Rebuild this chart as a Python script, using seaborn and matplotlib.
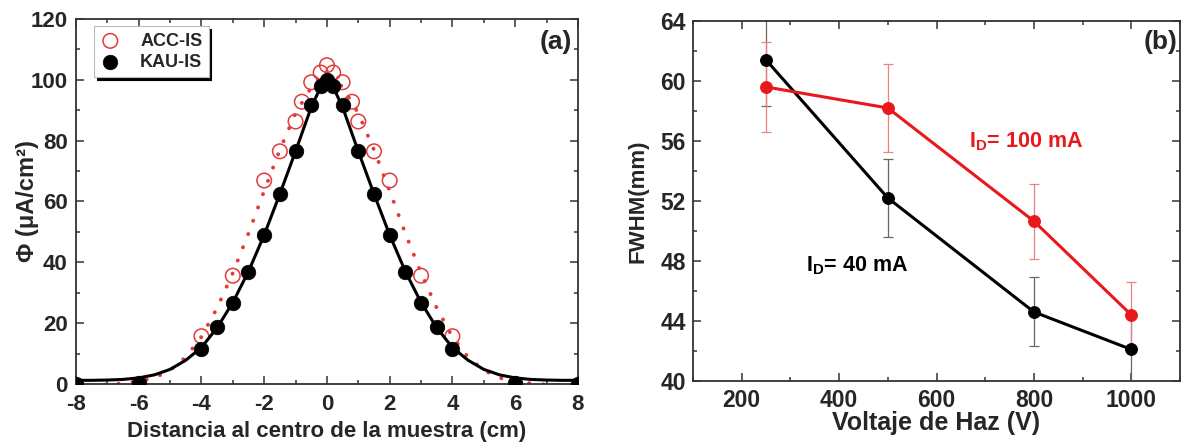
import numpy as np
import pandas as pd
import matplotlib
matplotlib.use("Agg")
import matplotlib.pyplot as plt
import seaborn as sns

# panel (a) data: beam profiles
acc_x = [-4, -3, -2, -1.5, -1, -0.8, -0.5, -0.2, 0, 0.2, 0.5, 0.8, 1, 1.5, 2, 3, 4]
acc_y = [15.7, 35.6, 66.9, 76.5, 86.3, 92.8, 99.2, 102.4, 104.8, 102.4, 99.2, 92.8, 86.3, 76.5, 66.9, 35.6, 15.7]

kau_x = [-8, -6, -4, -3.5, -3, -2.5, -2, -1.5, -1, -0.5, -0.2, 0, 0.2, 0.5, 1, 1.5, 2, 2.5, 3, 3.5, 4, 6, 8]
kau_y = [0, 0.3, 11.6, 18.7, 26.7, 36.7, 48.9, 62.4, 76.5, 91.7, 97.9, 99.9, 97.9, 91.7, 76.5, 62.4, 48.9, 36.7, 26.7, 18.7, 11.6, 0.3, 0]

# fitted curves
fit_x = [-8, -7.5, -7, -6.5, -6, -5.5, -5, -4.5, -4, -3.5, -3, -2.5, -2, -1.5, -1, -0.5, -0.25, 0,
         0.25, 0.5, 1, 1.5, 2, 2.5, 3, 3.5, 4, 4.5, 5, 5.5, 6, 6.5, 7, 7.5, 8]
fit_kau = [1.2, 1.2, 1.3, 1.5, 2.0, 3.0, 4.8, 7.8, 12.0, 18.5, 26.8, 37.0, 49.0, 62.5, 76.5, 91.0, 96.5, 100.0,
           96.5, 91.0, 76.5, 62.5, 49.0, 37.0, 26.8, 18.5, 12.0, 7.8, 4.8, 3.0, 2.0, 1.5, 1.3, 1.2, 1.2]
fit_acc = [-0.3, -0.3, -0.2, 0.2, 0.9, 2.0, 4.5, 8.8, 15.5, 25.0, 36.5, 49.5, 63.5, 77.0, 89.0, 97.5, 100.5, 101.5,
           100.5, 97.5, 89.0, 77.0, 63.5, 49.5, 36.5, 25.0, 15.5, 8.8, 4.5, 2.0, 0.9, 0.2, -0.2, -0.3, -0.3]

# panel (b) data: FWHM vs beam voltage
volt = [250, 500, 800, 1000]
fwhm_40 = [61.4, 52.2, 44.6, 42.1]
err_40 = [3.1, 2.6, 2.3, 2.3]
fwhm_100 = [59.6, 58.2, 50.65, 44.4]
err_100 = [3.0, 2.95, 2.5, 2.2]

sns.set_style("ticks")
plt.rcParams['font.family'] = ['Liberation Sans', 'DejaVu Sans']
plt.rcParams['font.weight'] = 'bold'
plt.rcParams['mathtext.fontset'] = 'custom'
plt.rcParams['mathtext.rm'] = 'Liberation Sans:bold'
plt.rcParams['mathtext.bf'] = 'Liberation Sans:bold'
plt.rcParams['mathtext.it'] = 'Liberation Sans:bold'

red_a = '#e23a3a'
red_b = '#e8181c'

fig = plt.figure(figsize=(11.83, 4.48), dpi=100)
ax1 = fig.add_axes([0.0642, 0.1429, 0.4243, 0.8147])
ax2 = fig.add_axes([0.5858, 0.1496, 0.4117, 0.8036])

for ax in (ax1, ax2):
    for s in ax.spines.values():
        s.set_color('#333333')
        s.set_linewidth(1.3)
    ax.tick_params(which='both', direction='in', top=True, right=True,
                   color='#333333', width=1.1)
    ax.tick_params(which='major', length=6)
    ax.tick_params(which='minor', length=3)

# ---- panel (a)
sns.lineplot(x=fit_x, y=fit_acc, ax=ax1, color=red_a, linewidth=2.8,
             dashes=False, sort=False)
ax1.lines[-1].set_linestyle((0, (0.05, 3.6)))
ax1.lines[-1].set_dash_capstyle('round')
sns.scatterplot(x=acc_x, y=acc_y, ax=ax1, marker='o', s=110, facecolor='none',
                edgecolor=red_a, linewidth=1.1, label='ACC-IS', zorder=3)
sns.scatterplot(x=kau_x, y=kau_y, ax=ax1, marker='o', s=110, color='black',
                edgecolor='black', linewidth=0.5, label='KAU-IS', zorder=4)
sns.lineplot(x=fit_x, y=fit_kau, ax=ax1, color='black', linewidth=2.2, sort=False, zorder=5)

ax1.set_xlim(-8, 8)
ax1.set_ylim(0, 120)
ax1.set_xticks(np.arange(-8, 9, 2))
ax1.set_xticks(np.arange(-8, 9, 1), minor=True)
ax1.set_yticks(np.arange(0, 121, 20))
ax1.set_yticks(np.arange(0, 121, 10), minor=True)
ax1.set_xticklabels([f'{v:d}' for v in range(-8, 9, 2)], fontweight='bold', fontsize=16)
ax1.set_yticklabels([f'{v:d}' for v in range(0, 121, 20)], fontweight='bold', fontsize=16)
ax1.tick_params(axis='x', pad=7)
ax1.tick_params(axis='y', pad=6)
ax1.set_xlabel('Distancia al centro de la muestra (cm)', fontsize=16, fontweight='bold')
ax1.set_ylabel('Φ (μA/cm²)', fontsize=17, fontweight='bold')
ax1.xaxis.set_label_coords(0.5, -0.129)
ax1.xaxis.label.set_va('center')
ax1.yaxis.set_label_coords(-0.096, 0.5)
ax1.yaxis.label.set_va('center')
ax1.text(0.956, 0.937, '(a)', transform=ax1.transAxes, fontsize=19, fontweight='bold',
         ha='center', va='center')
leg = ax1.legend(loc='upper left', bbox_to_anchor=(0.036, 0.98), borderaxespad=0, frameon=True,
                 fancybox=False, shadow={'color': 'black', 'alpha': 1.0}, fontsize=13,
                 handletextpad=1.1, borderpad=0.35, labelspacing=0.25, handlelength=1.1)
leg.get_frame().set_edgecolor('#bbbbbb')
leg.get_frame().set_linewidth(0.8)
for t in leg.get_texts():
    t.set_fontweight('bold')

# ---- panel (b)
ax2.errorbar(volt, fwhm_40, yerr=err_40, fmt='none', ecolor='#666666', elinewidth=0.9,
             capsize=3.5, capthick=0.9, zorder=1)
ax2.errorbar(volt, fwhm_100, yerr=err_100, fmt='none', ecolor='#ee8080', elinewidth=0.9,
             capsize=3.5, capthick=0.9, zorder=1)
sns.lineplot(x=volt, y=fwhm_40, ax=ax2, color='black', linewidth=2.2, marker='o',
             markersize=8.5, markeredgecolor='black', zorder=3)
sns.lineplot(x=volt, y=fwhm_100, ax=ax2, color=red_b, linewidth=2.2, marker='o',
             markersize=8.5, markeredgecolor=red_b, zorder=3)

ax2.set_xlim(100, 1100)
ax2.set_ylim(40, 64)
ax2.set_xticks(np.arange(200, 1001, 200))
ax2.set_xticks(np.arange(100, 1101, 100), minor=True)
ax2.set_yticks(np.arange(40, 65, 4))
ax2.set_yticks(np.arange(40, 65, 2), minor=True)
ax2.set_xticklabels([str(v) for v in range(200, 1001, 200)], fontweight='bold', fontsize=16.5)
ax2.set_yticklabels([str(v) for v in range(40, 65, 4)], fontweight='bold', fontsize=16.5)
ax2.tick_params(axis='x', pad=6)
ax2.tick_params(axis='y', pad=5)
ax2.set_xlabel('Voltaje de Haz (V)', fontsize=18, fontweight='bold')
ax2.set_ylabel('FWHM(mm)', fontsize=16, fontweight='bold')
ax2.xaxis.set_label_coords(0.5, -0.117)
ax2.xaxis.label.set_va('center')
ax2.yaxis.set_label_coords(-0.113, 0.5)
ax2.yaxis.label.set_va('center')
ax2.text(0.959, 0.942, '(b)', transform=ax2.transAxes, fontsize=19, fontweight='bold',
         ha='center', va='center')
ax2.text(666, 55.6, r'I$_{\mathrm{D}}$= 100 mA', color=red_b, fontsize=15.5, fontweight='bold',
         ha='left', va='baseline')
ax2.text(331, 47.3, r'I$_{\mathrm{D}}$= 40 mA', color='black', fontsize=15.5, fontweight='bold',
         ha='left', va='baseline')

fig.savefig('out.png', dpi=100)
